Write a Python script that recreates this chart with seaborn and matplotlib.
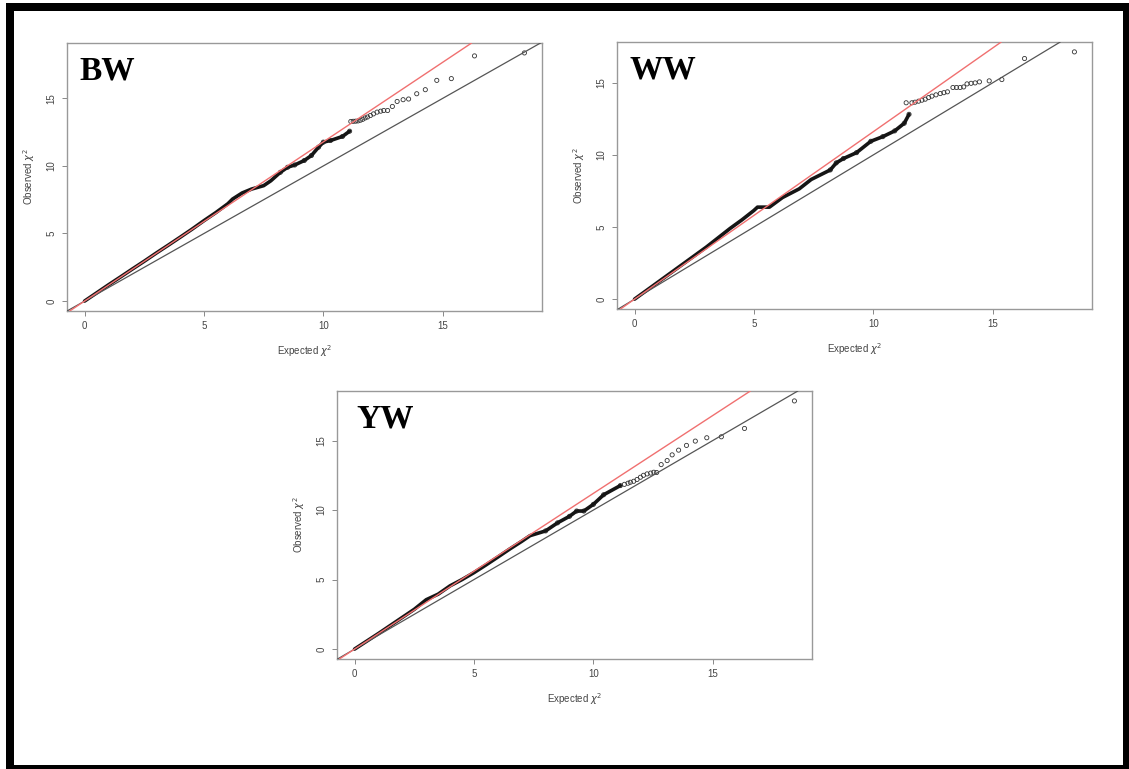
import matplotlib
matplotlib.use('Agg')
import matplotlib.pyplot as plt
import seaborn as sns
import pandas as pd
from matplotlib.patches import Rectangle

# ---- BW: dense part of the QQ curve (expected, observed) ----
bw_dense_exp = [0.0, 0.5, 1.0, 1.5, 2.0, 2.5, 3.0, 3.5, 4.0, 4.5, 5.0, 5.5, 6.0, 6.2, 6.6,
                7.0, 7.5, 7.8, 8.2, 8.5, 8.8, 9.2, 9.5, 9.8, 10.0, 10.3, 10.8, 11.1]
bw_dense_obs = [0.0, 0.6, 1.2, 1.78, 2.37, 2.95, 3.55, 4.13, 4.72, 5.32, 5.95, 6.55, 7.2, 7.55, 8.0,
                8.29, 8.54, 8.9, 9.53, 9.9, 10.07, 10.4, 10.77, 11.39, 11.76, 11.88, 12.18, 12.57]
# BW: sparse tail points
bw_tail_exp = [11.15, 11.25, 11.35, 11.45, 11.55, 11.65, 11.75, 11.85, 11.97, 12.1, 12.25, 12.4,
               12.53, 12.69, 12.89, 13.09, 13.34, 13.57, 13.91, 14.27, 14.75, 15.36, 16.33, 18.42]
bw_tail_obs = [13.29, 13.3, 13.31, 13.33, 13.38, 13.45, 13.55, 13.62, 13.73, 13.85, 13.98, 14.05,
               14.1, 14.1, 14.4, 14.77, 14.9, 14.95, 15.34, 15.64, 16.33, 16.46, 18.14, 18.36]
bw_lambda = 1.178

# ---- WW ----
ww_dense_exp = [0.0, 0.5, 1.0, 1.5, 2.0, 2.5, 3.0, 3.5, 4.0, 4.5, 5.0, 5.15, 5.65, 6.2, 6.9,
                7.4, 8.2, 8.45, 8.75, 9.3, 9.9, 10.4, 10.9, 11.3, 11.5]
ww_dense_obs = [0.0, 0.6, 1.2, 1.8, 2.4, 3.0, 3.6, 4.25, 4.9, 5.5, 6.15, 6.38, 6.38, 7.05, 7.65,
                8.3, 8.96, 9.45, 9.75, 10.16, 10.95, 11.27, 11.67, 12.2, 12.82]
ww_tail_exp = [11.38, 11.62, 11.75, 11.9, 12.04, 12.18, 12.32, 12.46, 12.63, 12.81, 12.96, 13.11,
               13.34, 13.49, 13.64, 13.79, 13.93, 14.1, 14.27, 14.45, 14.86, 15.39, 16.34, 18.43]
ww_tail_obs = [13.62, 13.62, 13.66, 13.73, 13.8, 13.87, 13.98, 14.08, 14.17, 14.26, 14.32, 14.38,
               14.68, 14.68, 14.68, 14.72, 14.93, 14.97, 15.0, 15.07, 15.14, 15.23, 16.69, 17.15]
ww_lambda = 1.161

# ---- YW ----
yw_dense_exp = [0.0, 0.5, 1.0, 1.5, 2.0, 2.5, 3.0, 3.5, 4.0, 4.5, 5.0, 5.5, 6.0, 6.5, 7.0,
                7.35, 8.0, 8.5, 9.0, 9.3, 9.6, 10.0, 10.43, 11.13]
yw_dense_obs = [0.0, 0.56, 1.12, 1.7, 2.28, 2.86, 3.55, 3.95, 4.55, 5.0, 5.5, 6.05, 6.62, 7.2, 7.75,
                8.16, 8.5, 9.08, 9.55, 9.93, 9.93, 10.41, 11.1, 11.76]
yw_tail_exp = [11.3, 11.45, 11.55, 11.69, 11.83, 11.97, 12.1, 12.25, 12.4, 12.53, 12.65, 12.84,
               13.09, 13.3, 13.57, 13.9, 14.27, 14.75, 15.36, 16.33, 18.42]
yw_tail_obs = [11.85, 11.93, 12.0, 12.07, 12.2, 12.36, 12.5, 12.6, 12.66, 12.72, 12.7, 13.27,
               13.56, 13.97, 14.31, 14.65, 14.96, 15.2, 15.27, 15.87, 17.85]
yw_lambda = 1.12

panel_names = ['BW', 'WW', 'YW']
tick_values = [0, 5, 10, 15]

sns.set_style('white')
plt.rcParams['font.family'] = ['Liberation Sans', 'DejaVu Sans']

W, H = 1129, 769
fig = plt.figure(figsize=(W / 100, H / 100), dpi=100)
fig.patch.set_facecolor('white')

# axes boxes in pixels: left, top, right, bottom
boxes = {'BW': (67, 43, 542, 311), 'WW': (617, 42, 1092, 309), 'YW': (337, 391, 812, 659)}
label_offset = {'BW': 0.027, 'WW': 0.027, 'YW': 0.040}

data = {
    'BW': (bw_dense_exp, bw_dense_obs, bw_tail_exp, bw_tail_obs, bw_lambda),
    'WW': (ww_dense_exp, ww_dense_obs, ww_tail_exp, ww_tail_obs, ww_lambda),
    'YW': (yw_dense_exp, yw_dense_obs, yw_tail_exp, yw_tail_obs, yw_lambda),
}

for name in panel_names:
    x0, y0, x1, y1 = boxes[name]
    ax = fig.add_axes([x0 / W, 1 - y1 / H, (x1 - x0) / W, (y1 - y0) / H])
    dexp, dobs, texp, tobs, lam = data[name]
    dense = pd.DataFrame({'exp': dexp, 'obs': dobs})
    tail = pd.DataFrame({'exp': texp, 'obs': tobs})

    # overlapping circles of the dense region drawn as a thick band
    sns.lineplot(data=dense, x='exp', y='obs', sort=False, estimator=None, ax=ax,
                 color='#151515', lw=2.6, solid_capstyle='round', solid_joinstyle='round')
    mid = dense[dense['exp'] >= 8]
    pts = pd.concat([mid, tail])
    sns.scatterplot(data=pts, x='exp', y='obs', ax=ax, marker='o', s=9,
                    color='#333333', linewidth=0.6)
    coll = ax.collections[-1]
    coll.set_facecolor('none')
    coll.set_edgecolor('#333333')

    all_exp = list(dexp) + list(texp)
    all_obs = list(dobs) + list(tobs)
    xr = max(all_exp) - min(all_exp)
    yr = max(all_obs) - min(all_obs)
    ax.set_xlim(min(all_exp) - 0.04 * xr, max(all_exp) + 0.04 * xr)
    ax.set_ylim(min(all_obs) - 0.04 * yr, max(all_obs) + 0.04 * yr)

    ax.axline((0, 0), slope=1, color='#555555', lw=0.9, zorder=3)
    ax.axline((0, 0), slope=lam, color='#f07070', lw=1.0, zorder=3)

    ax.set_xticks(tick_values)
    ax.set_yticks(tick_values)
    ax.tick_params(direction='out', length=3.5, width=0.7, color='#888888',
                   labelsize=7, labelcolor='#444444', pad=4, bottom=True, left=True)
    for lab in ax.get_yticklabels():
        lab.set_rotation(90)
        lab.set_va('center')

    ax.set_xlabel(r'Expected $\chi^2$', fontsize=7, color='#444444')
    ax.set_ylabel(r'Observed $\chi^2$', fontsize=7, color='#444444')
    ax.xaxis.set_label_coords(0.5, -0.12)
    ax.yaxis.set_label_coords(-0.063, 0.5)

    for sp in ax.spines.values():
        sp.set_visible(True)
        sp.set_color('#999999')
        sp.set_linewidth(1.0)

    ax.text(label_offset[name], 0.862, name, transform=ax.transAxes, fontsize=24,
            fontweight='bold', family='Liberation Serif', va='baseline', ha='left',
            color='black')

# outer black frame
fig.add_artist(Rectangle((10 / W, 1 - 769 / H), (1127 - 10) / W, (769 - 7) / H,
                         transform=fig.transFigure, fill=False, edgecolor='black',
                         linewidth=8 * 0.72))

fig.savefig('out.png', dpi=100, facecolor='white')
